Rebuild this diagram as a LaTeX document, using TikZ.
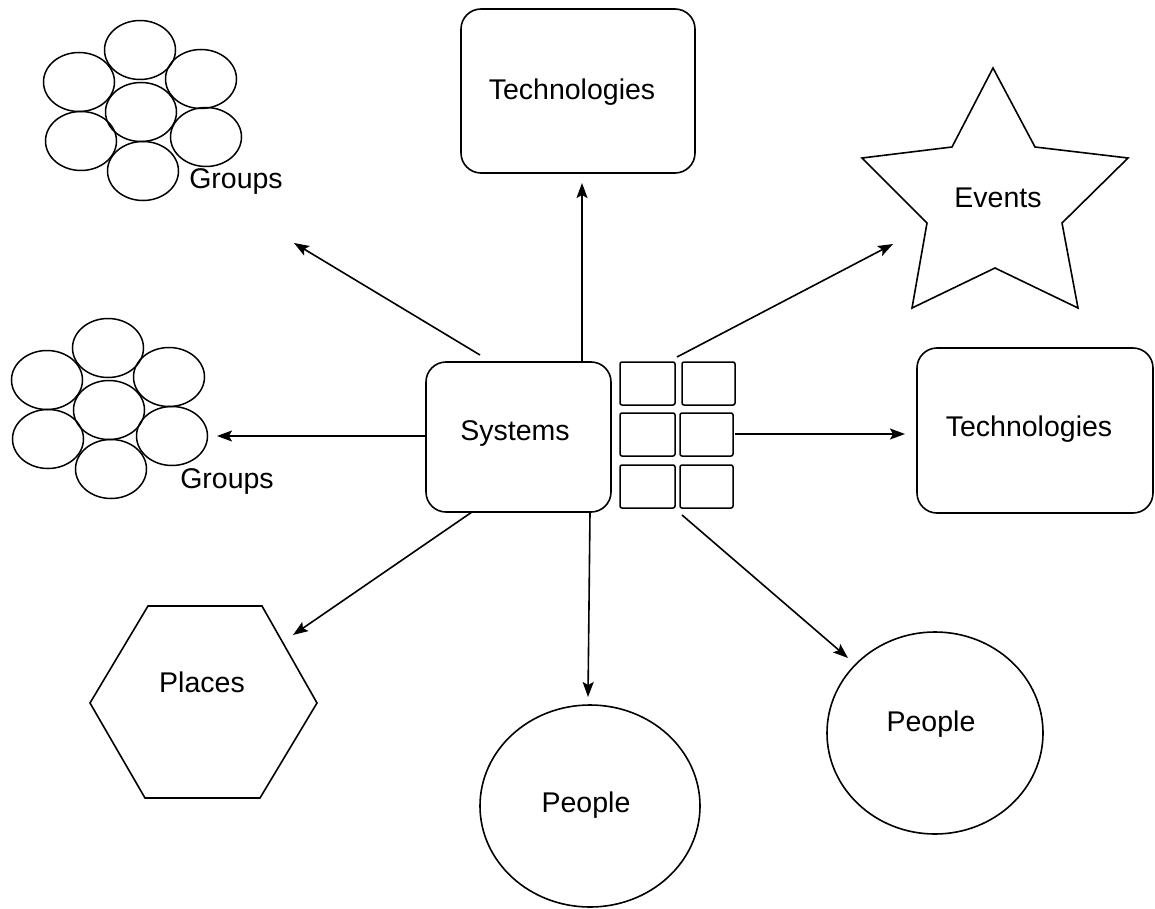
\documentclass[tikz,border=0pt]{standalone}
\usepackage{fontspec}
\setmainfont{Liberation Sans}
\usetikzlibrary{shapes.geometric,arrows.meta}
\begin{document}
\begin{tikzpicture}[x=1pt,y=-1pt,
  every node/.style={font=\fontsize{28.5}{34}\selectfont},
  box/.style={draw, line width=1.6pt, rounded corners=20pt, inner sep=0pt},
  sq/.style={draw, line width=1.5pt, rounded corners=2pt, inner sep=0pt},
  bub/.style={draw, ellipse, line width=1.5pt, minimum width=71pt, minimum height=59pt, inner sep=0pt},
  person/.style={draw, ellipse, line width=1.6pt, inner sep=0pt},
  shapeline/.style={draw, line width=1.6pt, line join=miter},
  conn/.style={line width=1.6pt, -{Stealth[length=15pt,width=11pt,inset=3pt]}},
  lab/.style={inner sep=0pt}]
\useasboundingbox (0,0) rectangle (1155,909);

% central system
\node[box, minimum width=185pt, minimum height=150pt] (sys) at (518.5,437) {};
\node[lab] (systxt) at (515,434) {Systems};
% grid of small squares
\node[sq, minimum width=55pt, minimum height=43pt] (q11) at (647.5,383.5) {};
\node[sq, minimum width=53pt, minimum height=43pt] (q12) at (708.5,383.5) {};
\node[sq, minimum width=55pt, minimum height=43pt] (q21) at (647.5,434.5) {};
\node[sq, minimum width=53pt, minimum height=43pt] (q22) at (706.5,434.5) {};
\node[sq, minimum width=55pt, minimum height=43pt] (q31) at (647.5,486.5) {};
\node[sq, minimum width=53pt, minimum height=43pt] (q32) at (706.5,486.5) {};

% technologies boxes
\node[box, minimum width=234pt, minimum height=164pt] (techtop) at (578,91) {};
\node[lab] (techtoptxt) at (572,92) {Technologies};
\node[box, minimum width=236pt, minimum height=165pt] (techright) at (1035,430.5) {};
\node[lab] (techrighttxt) at (1029,429) {Technologies};

% people
\node[person, minimum width=220pt, minimum height=202pt] (peopleb) at (590,806) {};
\node[lab] (peoplebtxt) at (586,805) {People};
\node[person, minimum width=216pt, minimum height=202pt] (peopler) at (935,733) {};
\node[lab] (peoplertxt) at (931,724) {People};

% star (events)
\draw[shapeline] (993,68) -- (1035,147) -- (1128,158) -- (1062,223) -- (1078,308)
  -- (995,268) -- (912,308) -- (927,223) -- (862,158) -- (952,147) -- cycle;
\node[lab] (events) at (998,198) {Events};

% hexagon (places)
\draw[shapeline] (148,606) -- (262,606) -- (317,703) -- (260,798) -- (145,798) -- (90,703) -- cycle;
\node[lab] (places) at (202,682) {Places};

% groups (top)
\foreach \n/\x/\y in {a/140/50, b/79/82, c/201/79, d/141/112, e/81/141, f/206/137, g/143/171}
  \node[bub] (gt\n) at (\x,\y) {};
\node[lab] (groupstop) at (236,182) {Groups};
% groups (left)
\foreach \n/\x/\y in {a/108/348, b/47/380, c/169/377, d/109/410, e/48/439, f/172/436, g/111/469}
  \node[bub] (gl\n) at (\x,\y) {};
\node[lab] (groupsleft) at (227,482) {Groups};

% connector end points
\coordinate (s1) at (480,355);  \coordinate (e1) at (294,243);
\coordinate (s2) at (582,362);  \coordinate (e2) at (582,183);
\coordinate (s3) at (426,436);  \coordinate (e3) at (217,436);
\coordinate (s4) at (472,512);  \coordinate (e4) at (293,635);
\coordinate (s5) at (590,512);  \coordinate (e5) at (588,697);
\coordinate (s6) at (677,357);  \coordinate (e6) at (893,244);
\coordinate (s7) at (735,434);  \coordinate (e7) at (905,434);
\coordinate (s8) at (682,515);  \coordinate (e8) at (848,658);

\draw[conn] (s1) -- (e1);
\draw[conn] (s2) -- (e2);
\draw[conn] (s3) -- (e3);
\draw[conn] (s4) -- (e4);
\draw[conn] (s5) -- (e5);
\draw[conn] (s6) -- (e6);
\draw[conn] (s7) -- (e7);
\draw[conn] (s8) -- (e8);
\end{tikzpicture}
\end{document}
